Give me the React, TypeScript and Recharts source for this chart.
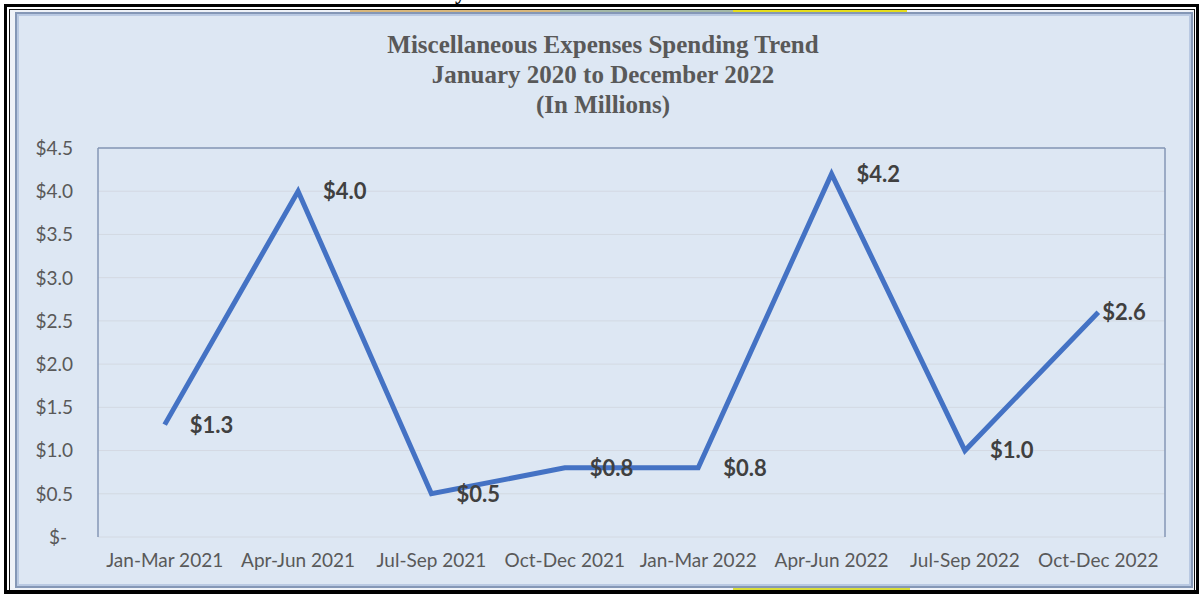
import { CartesianGrid, Line, LineChart, ReferenceLine, XAxis, YAxis } from "recharts";

const periods = [
  "Jan-Mar 2021",
  "Apr-Jun 2021",
  "Jul-Sep 2021",
  "Oct-Dec 2021",
  "Jan-Mar 2022",
  "Apr-Jun 2022",
  "Jul-Sep 2022",
  "Oct-Dec 2022"
];
const spending = [1.3, 4.0, 0.5, 0.8, 0.8, 4.2, 1.0, 2.6];
const yTicks = [0, 0.5, 1, 1.5, 2, 2.5, 3, 3.5, 4, 4.5];
const titleLines = ["Miscellaneous Expenses Spending Trend", "January 2020 to December 2022", "(In Millions)"];

const data = periods.map((period, i) => ({ period, value: spending[i] }));

const tickFont = "Lato, 'Open Sans', sans-serif";
const borderBlue = "#8497b6";

function MoneyTick({ x, y, payload }: any) {
  const v = payload.value as number;
  return (
    <text x={v === 0 ? x - 6 : x} y={y} dy="0.36em" textAnchor="end" fill="#595959" fontSize={19} fontFamily={tickFont}>
      {v === 0 ? "$-" : "$" + v.toFixed(1)}
    </text>
  );
}

function PeriodTick({ x, y, payload }: any) {
  return (
    <text x={x} y={y + 30} textAnchor="middle" fill="#595959" fontSize={19} fontFamily={tickFont}>
      {payload.value}
    </text>
  );
}

function PointLabel({ x, y, value, index }: any) {
  const v = typeof value === "number" ? value : spending[index];
  const dx = index === spending.length - 1 ? 4 : 25;
  return (
    <text x={x + dx} y={y} dy="0.36em" fill="#404040" fontSize={22} fontWeight={700} fontFamily={tickFont}>
      {"$" + v.toFixed(1)}
    </text>
  );
}

export default function App() {
  return (
    <div style={{ position: "absolute", left: 0, top: 0, width: 1199, height: 594, overflow: "hidden", background: "#fff" }}>
      {/* outer black double frame */}
      <div style={{ position: "absolute", left: 4, top: 4, width: 1195, height: 590, boxSizing: "border-box", borderTop: "3px solid #000", borderLeft: "3px solid #000", borderRight: "3px solid #000", borderBottom: "4px solid #000" }} />
      <div style={{ position: "absolute", left: 9, top: 9, width: 1186, height: 581, boxSizing: "border-box", borderTop: "1px solid #111", borderLeft: "1px solid #111", borderRight: "1px solid #111", background: "#eef2f8" }} />
      {/* stray highlight strips from the page behind */}
      <div style={{ position: "absolute", left: 350, top: 10, width: 210, height: 2, background: "#d8b77c" }} />
      <div style={{ position: "absolute", left: 560, top: 10, width: 173, height: 2, background: "#a3b8a6" }} />
      <div style={{ position: "absolute", left: 733, top: 10, width: 174, height: 2, background: "#e6dd1c" }} />
      <div style={{ position: "absolute", left: 733, top: 588, width: 177, height: 2, background: "#d9dd3a" }} />
      <div style={{ position: "absolute", left: 455, top: -19, fontFamily: "'Liberation Serif', serif", fontWeight: 700, fontSize: 22, lineHeight: 1, color: "#000" }}>y</div>
      {/* chart area border */}
      <div style={{ position: "absolute", left: 15, top: 12, width: 1178, height: 576, boxSizing: "border-box", border: `2px solid ${borderBlue}`, boxShadow: "inset 0 0 0 2px #b9c9e2", background: "#dde7f3" }} />

      <div style={{ position: "absolute", left: 303, top: 30, width: 600, textAlign: "center", fontFamily: "'Liberation Serif', 'Times New Roman', serif", fontWeight: 700, fontSize: 25, lineHeight: "30px", color: "#595959" }}>
        {titleLines.map((t) => (
          <div key={t}>{t}</div>
        ))}
      </div>

      <div style={{ position: "absolute", left: 0, top: 0 }}>
        <LineChart width={1199} height={594} data={data} margin={{ top: 148, right: 0, bottom: 0, left: 0 }}>
          <CartesianGrid yAxisId="left" vertical={false} stroke="#d3d9e2" strokeWidth={1} />
          <XAxis
            dataKey="period"
            padding={{ left: 66.7, right: 66.7 }}
            height={57}
            axisLine={false}
            tickLine={false}
            tickSize={0}
            tickMargin={0}
            interval={0}
            tick={<PeriodTick />}
          />
          <YAxis
            yAxisId="left"
            domain={[0, 4.5]}
            ticks={yTicks}
            width={98}
            axisLine={{ stroke: borderBlue, strokeWidth: 1.5 }}
            tickLine={false}
            tickSize={0}
            tickMargin={25}
            tick={<MoneyTick />}
          />
          <YAxis
            yAxisId="right"
            orientation="right"
            domain={[0, 4.5]}
            width={34}
            axisLine={{ stroke: borderBlue, strokeWidth: 1.5 }}
            tickLine={false}
            tick={false}
          />
          <ReferenceLine yAxisId="left" y={4.5} stroke={borderBlue} strokeWidth={1.5} />
          <Line
            yAxisId="left"
            type="linear"
            dataKey="value"
            stroke="#4472c4"
            strokeWidth={5}
            dot={false}
            activeDot={false}
            isAnimationActive={false}
            label={<PointLabel />}
          />
        </LineChart>
      </div>
    </div>
  );
}
